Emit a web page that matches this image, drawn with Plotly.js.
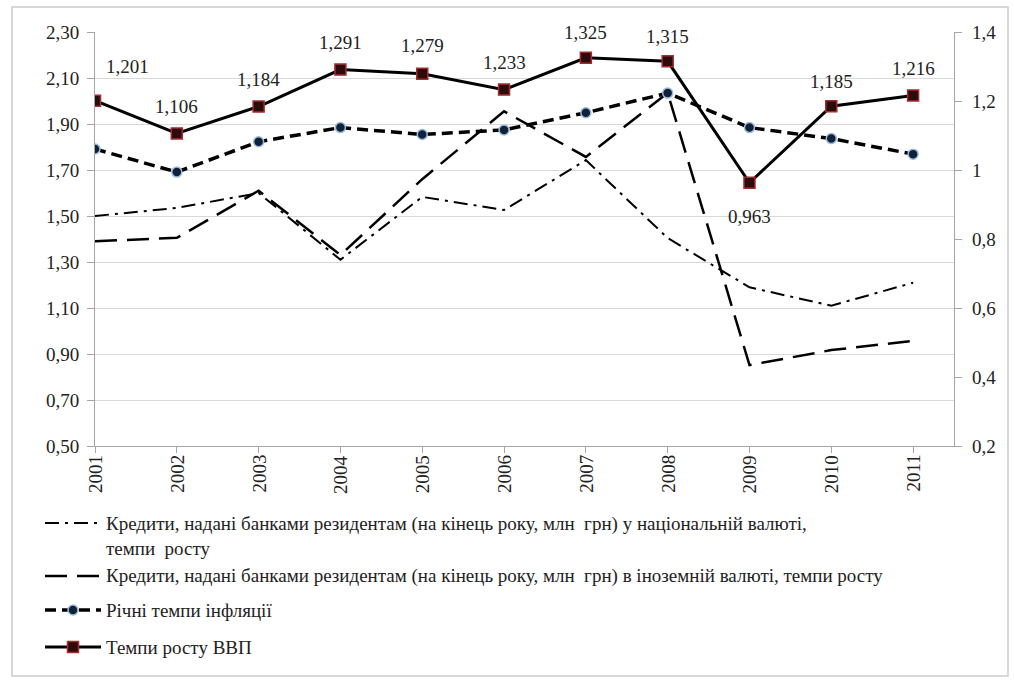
<!DOCTYPE html>
<html>
<head>
<meta charset="utf-8">
<script src="https://cdn.plot.ly/plotly-3.0.1.min.js"></script>
<style>html,body{margin:0;padding:0;background:#fff;}#chart{width:1014px;height:682px;}</style>
</head>
<body>
<div id="chart"></div>
<script>
// ---- data ----
const years = ['2001','2002','2003','2004','2005','2006','2007','2008','2009','2010','2011'];
const creditNational = [1.50, 1.535, 1.60, 1.31, 1.583, 1.526, 1.743, 1.404, 1.19, 1.11, 1.21];
const creditForeign = [1.39, 1.405, 1.61, 1.33, 1.66, 1.955, 1.757, 2.035, 0.852, 0.917, 0.957];
const inflation = [1.061, 0.994, 1.082, 1.123, 1.103, 1.116, 1.166, 1.223, 1.123, 1.091, 1.046];
const gdpGrowth = [1.201, 1.106, 1.184, 1.291, 1.279, 1.233, 1.325, 1.315, 0.963, 1.185, 1.216];
const leftTicks = [0.5, 0.7, 0.9, 1.1, 1.3, 1.5, 1.7, 1.9, 2.1, 2.3];
const leftTickText = ['0,50', '0,70', '0,90', '1,10', '1,30', '1,50', '1,70', '1,90', '2,10', '2,30'];
const rightTicks = [0.2, 0.4, 0.6, 0.8, 1.0, 1.2, 1.4];
const rightTickText = ['0,2', '0,4', '0,6', '0,8', '1', '1,2', '1,4'];
const seriesNames = [
  'Кредити, надані банками резидентам (на кінець року, млн  грн) у національній валюті,<br>темпи  росту',
  'Кредити, надані банками резидентам (на кінець року, млн  грн) в іноземній валюті, темпи росту',
  'Річні темпи інфляції',
  'Темпи росту ВВП'
];
// label offsets (px) for the GDP data labels
const labelShiftX = [32, 0, 0, 0, 0, 0, 0, 0, 0, 0, 0];
const labelShiftY = [34, 27, 27, 27, 28, 27, 25, 25, -34, 25, 27];

// pick an installed serif face (Times-like preferred)
function hasFont(name) {
  const c = document.createElement('canvas').getContext('2d');
  const s = 'Кредити надані 1234567890 abcdefghijklm';
  c.font = '40px monospace'; const w0 = c.measureText(s).width;
  c.font = '40px sans-serif'; const w1 = c.measureText(s).width;
  c.font = '40px "' + name + '", monospace'; const a = c.measureText(s).width;
  c.font = '40px "' + name + '", sans-serif'; const b = c.measureText(s).width;
  return a !== w0 || b !== w1;
}
const candidates = [['Liberation Serif', 19], ['Times New Roman', 19], ['Tinos', 19], ['Noto Serif', 16], ['DejaVu Serif', 16]];
let FONT = 'DejaVu Serif', FS = 16;
for (const [n, s] of candidates) { if (hasFont(n)) { FONT = n; FS = s; break; } }

const TXT = {family: FONT, size: FS, color: '#222'};
const W = 1014, H = 682, L = 95, R = 60, T = 32, B = 236;
const pw = W - L - R, ph = H - T - B;
const px2x = p => (p - L) / pw;
const py2y = p => (H - B - p) / ph;

const styles = [
  {line: {color: '#000', width: 2, dash: '14px,6px,3px,6px'}},
  {line: {color: '#000', width: 2.5, dash: '22px,10px'}},
  {line: {color: '#000', width: 3.5, dash: '11px,6px'},
   marker: {symbol: 'circle', size: 10, color: '#10223a', line: {color: '#9ebcdc', width: 1.5}}},
  {line: {color: '#000', width: 3},
   marker: {symbol: 'square', size: 11, color: '#2a0c0c', line: {color: '#a82a2e', width: 1.5}}}
];

const traces = [
  {x: years, y: creditNational, name: seriesNames[0], type: 'scatter', mode: 'lines', line: styles[0].line, yaxis: 'y'},
  {x: years, y: creditForeign, name: seriesNames[1], type: 'scatter', mode: 'lines', line: styles[1].line, yaxis: 'y'},
  {x: years, y: inflation, name: seriesNames[2], type: 'scatter', mode: 'lines+markers', line: styles[2].line, marker: styles[2].marker, yaxis: 'y2'},
  {x: years, y: gdpGrowth, name: seriesNames[3], type: 'scatter', mode: 'lines+markers', line: styles[3].line, marker: styles[3].marker, yaxis: 'y2'}
];

const annotations = [];
// GDP data labels (category axis: x is the category index)
gdpGrowth.forEach((v, i) => annotations.push({
  x: i, y: v, xref: 'x', yref: 'y2', text: v.toFixed(3).replace('.', ','),
  showarrow: false, xshift: labelShiftX[i], yshift: labelShiftY[i], font: TXT
}));
// axis tick labels
leftTicks.forEach((v, i) => annotations.push({
  x: 0, y: v, xref: 'paper', yref: 'y', text: leftTickText[i], showarrow: false,
  xanchor: 'right', yanchor: 'middle', xshift: -14, font: TXT
}));
rightTicks.forEach((v, i) => annotations.push({
  x: 1, y: v, xref: 'paper', yref: 'y2', text: rightTickText[i], showarrow: false,
  xanchor: 'left', yanchor: 'middle', xshift: 16, font: TXT
}));
years.forEach((yr, i) => annotations.push({
  x: i, y: 0, xref: 'x', yref: 'paper', text: yr, showarrow: false, textangle: -90,
  xanchor: 'center', yanchor: 'top', yshift: -7, font: TXT
}));

// legend (drawn by hand)
const legY = [523, 576, 610, 647];
const legX0 = 45, legX1 = 101, legMark = 73, legText = 104;
const shapes = [{
  type: 'rect', xref: 'paper', yref: 'paper', layer: 'below',
  x0: px2x(12), x1: px2x(1008), y0: py2y(676), y1: py2y(7),
  line: {color: '#cccccc', width: 1.5}, fillcolor: 'rgba(0,0,0,0)'
}];
styles.forEach((s, i) => {
  shapes.push({type: 'line', xref: 'paper', yref: 'paper',
    x0: px2x(legX0), x1: px2x(legX1), y0: py2y(legY[i]), y1: py2y(legY[i]), line: s.line});
  if (s.marker) {
    const r = s.marker.size / 2;
    shapes.push({type: s.marker.symbol === 'circle' ? 'circle' : 'rect', xref: 'paper', yref: 'paper',
      x0: px2x(legMark - r), x1: px2x(legMark + r), y0: py2y(legY[i] + r), y1: py2y(legY[i] - r),
      fillcolor: s.marker.color, line: s.marker.line});
  }
});
annotations.push({x: px2x(legText), y: py2y(legY[0] + 12.5), xref: 'paper', yref: 'paper',
  text: seriesNames[0], align: 'left', showarrow: false, xanchor: 'left', yanchor: 'middle',
  font: TXT});
for (let i = 1; i < 4; i++) annotations.push({x: px2x(legText), y: py2y(legY[i]), xref: 'paper', yref: 'paper',
  text: seriesNames[i], align: 'left', showarrow: false, xanchor: 'left', yanchor: 'middle', font: TXT});

const layout = {
  width: W, height: H,
  margin: {l: L, r: R, t: T, b: B, pad: 0},
  paper_bgcolor: '#fff', plot_bgcolor: '#fff',
  font: {family: FONT, size: FS, color: '#222'},
  showlegend: false,
  xaxis: {
    type: 'category', range: [0, 10.5], showticklabels: false,
    showline: true, linecolor: '#a6a6a6', linewidth: 1,
    ticks: 'outside', ticklen: 6, tickcolor: '#a6a6a6',
    showgrid: false, zeroline: false
  },
  yaxis: {
    range: [0.5, 2.3], tickmode: 'array', tickvals: leftTicks, showticklabels: false,
    showline: true, linecolor: '#a6a6a6', linewidth: 1,
    ticks: 'outside', ticklen: 7, tickcolor: '#a6a6a6',
    showgrid: true, gridcolor: '#d9d9d9', gridwidth: 1, zeroline: false
  },
  yaxis2: {
    overlaying: 'y', side: 'right',
    range: [0.2, 1.4], tickmode: 'array', tickvals: rightTicks, showticklabels: false,
    showline: true, linecolor: '#a6a6a6', linewidth: 1,
    ticks: 'outside', ticklen: 7, tickcolor: '#a6a6a6',
    showgrid: false, zeroline: false
  },
  shapes: shapes,
  annotations: annotations
};

Plotly.newPlot('chart', traces, layout, {displayModeBar: false});
</script>
</body>
</html>
